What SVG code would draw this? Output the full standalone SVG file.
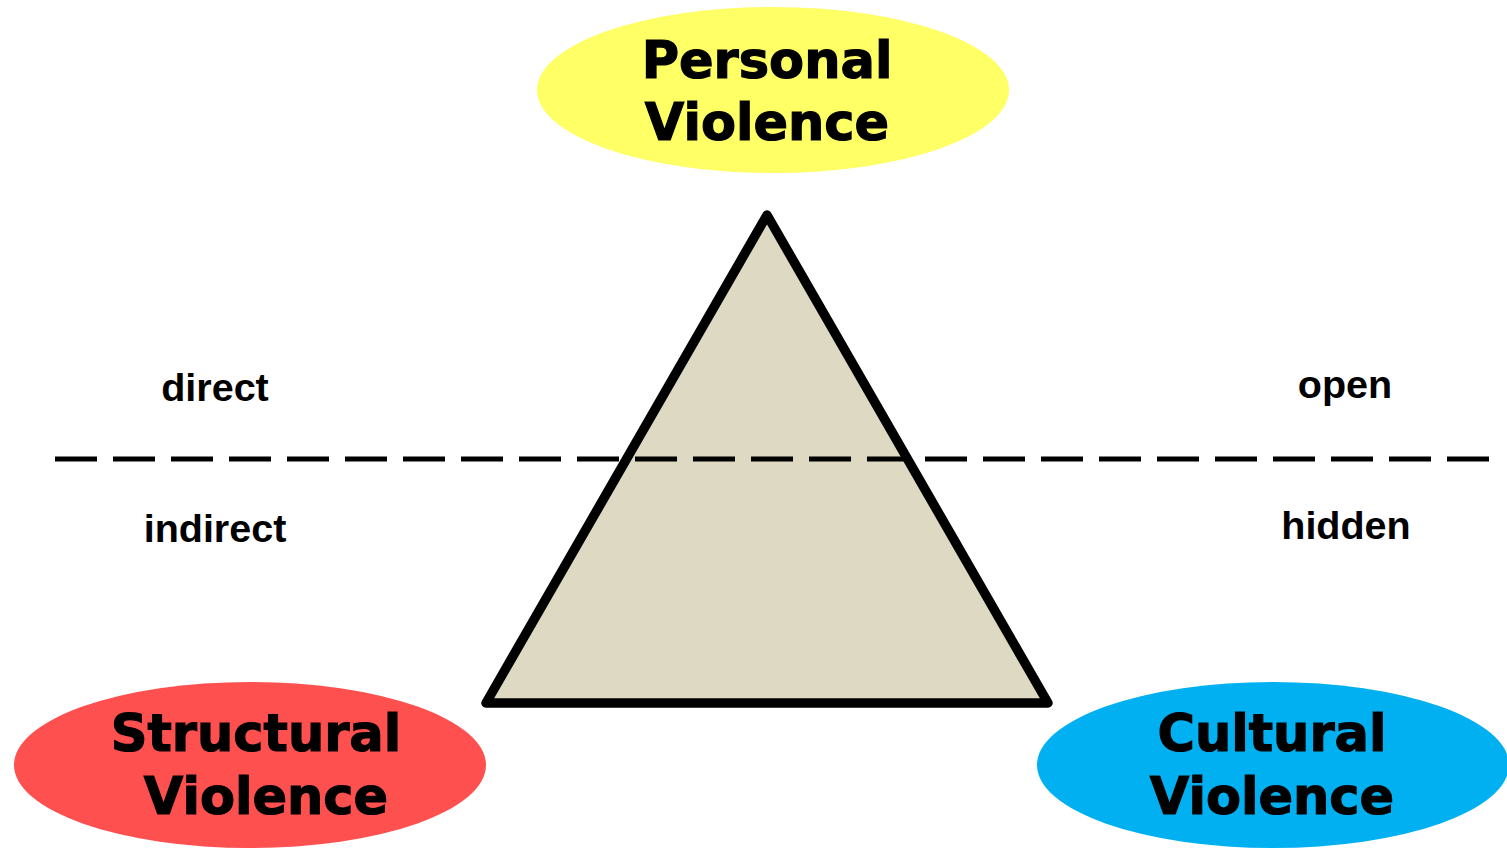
<svg xmlns="http://www.w3.org/2000/svg" width="1507" height="848" viewBox="0 0 1507 848">
  <style>
    .title { font-family: "DejaVu Sans", "Liberation Sans", sans-serif; font-weight: bold; font-size: 51px; fill: #000; stroke: #000; stroke-width: 1.2px; text-anchor: middle; }
    .side { font-family: "Liberation Sans", Arial, sans-serif; font-weight: bold; font-size: 39.5px; fill: #000; text-anchor: middle; }
  </style>
  <rect width="1507" height="848" fill="#ffffff"/>

  <!-- central triangle -->
  <g id="triangle">
    <polygon points="767,215 486,703 1048,703" fill="#DDD9C3" stroke="#000" stroke-width="9.5" stroke-linejoin="round"/>
  </g>

  <!-- visibility divider -->
  <g id="connectors">
    <line x1="55" y1="459" x2="1490" y2="459" stroke="#000" stroke-width="5" stroke-dasharray="42 16"/>
  </g>

  <g id="personal">
    <ellipse cx="773" cy="90" rx="236" ry="83" fill="#FFFF66"/>
    <text class="title" x="767" y="78">Personal</text>
    <text class="title" x="767" y="140">Violence</text>
  </g>

  <g id="structural">
    <ellipse cx="250" cy="765" rx="236" ry="83" fill="#FF5050"/>
    <text class="title" x="256" y="751">Structural</text>
    <text class="title" x="266" y="814">Violence</text>
  </g>

  <g id="cultural">
    <ellipse cx="1273" cy="765" rx="236" ry="83" fill="#00B0F0"/>
    <text class="title" x="1272" y="751">Cultural</text>
    <text class="title" x="1272" y="814">Violence</text>
  </g>

  <g id="labels">
    <text class="side" x="215" y="401">direct</text>
    <text class="side" x="215" y="542">indirect</text>
    <text class="side" x="1345" y="398">open</text>
    <text class="side" x="1346" y="539">hidden</text>
  </g>
</svg>
